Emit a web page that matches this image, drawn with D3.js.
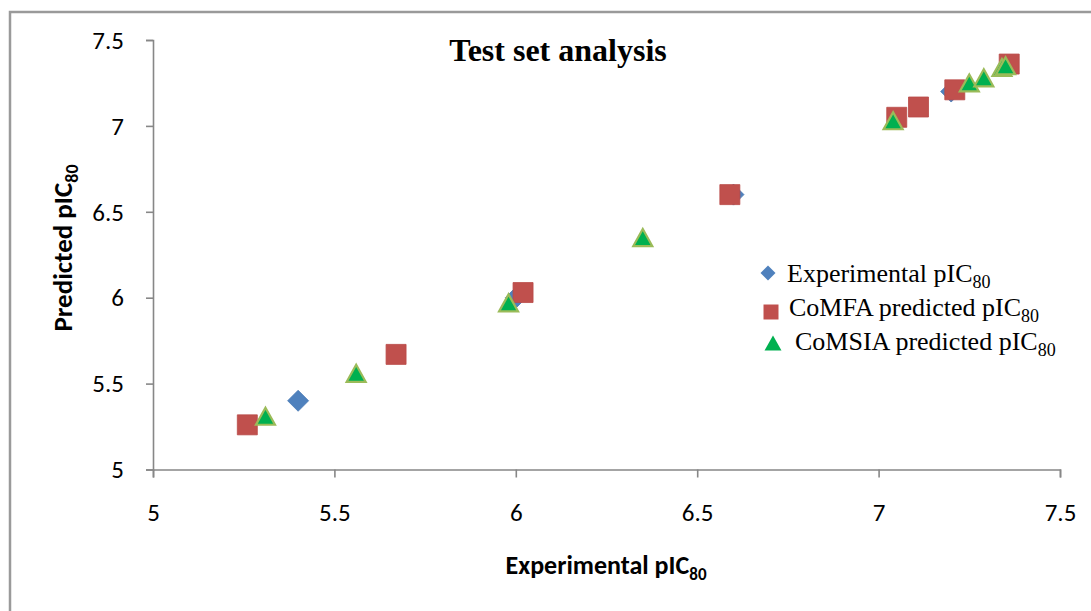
<!DOCTYPE html>
<html><head><meta charset="utf-8">
<script src="https://cdn.jsdelivr.net/npm/d3@7"></script>
<style>
html,body{margin:0;padding:0;background:#fff;}
svg{display:block;}
</style></head>
<body>
<script>
// ---- data ----
const xTicks = [5, 5.5, 6, 6.5, 7, 7.5];
const yTicks = [5, 5.5, 6, 6.5, 7, 7.5];
const expX = [5.40, 6.00, 6.60, 7.20];
const expY = [5.40, 6.00, 6.60, 7.20];
const comfaX = [5.26, 5.67, 6.02, 6.59, 7.05, 7.11, 7.21, 7.36];
const comfaY = [5.26, 5.67, 6.03, 6.60, 7.05, 7.11, 7.21, 7.36];
const comsiaX = [5.31, 5.56, 5.98, 6.35, 7.04, 7.25, 7.29, 7.34, 7.35];
const comsiaY = [5.31, 5.56, 5.97, 6.35, 7.03, 7.25, 7.28, 7.34, 7.35];
const seriesNames = ["Experimental pIC", "CoMFA predicted pIC", "CoMSIA predicted pIC"];
const titleText = "Test set analysis";

const W = 1091, H = 611;
const svg = d3.select("body").append("svg").attr("width", W).attr("height", H);

// outer chart border
svg.append("rect").attr("x", 10).attr("y", 12).attr("width", W + 20).attr("height", H + 20)
  .attr("fill", "none").attr("stroke", "#9a9a9a").attr("stroke-width", 2.5);

const x = d3.scaleLinear().domain([5, 7.5]).range([153, 1060]);
const y = d3.scaleLinear().domain([5, 7.5]).range([469.5, 40]);

const axisColor = "#878787";
const tickFont = "Carlito, 'Open Sans', 'Liberation Sans', sans-serif";

// x axis
const gx = svg.append("g").attr("transform", `translate(0,${y(5)})`)
  .call(d3.axisBottom(x).tickValues(xTicks).tickSize(8).tickPadding(22).tickFormat(d3.format("")));
// y axis
const gy = svg.append("g").attr("transform", `translate(${x(5)},0)`)
  .call(d3.axisLeft(y).tickValues(yTicks).tickSize(7).tickPadding(22).tickFormat(d3.format("")));
[gx, gy].forEach(g => {
  g.select(".domain").attr("stroke", axisColor).attr("stroke-width", 1.6);
  g.selectAll(".tick line").attr("stroke", axisColor).attr("stroke-width", 1.6);
  g.selectAll(".tick text").attr("fill", "#000").style("font-family", tickFont).style("font-size", "25px");
});
gx.selectAll(".tick text").attr("dy", "0.85em");
gy.selectAll(".tick text").attr("dy", "0.33em");

// axis titles
const xt = svg.append("text").attr("x", 606).attr("y", 574).attr("text-anchor", "middle")
  .style("font-family", tickFont).style("font-size", "26px").style("font-weight", "bold");
xt.append("tspan").text("Experimental pIC");
xt.append("tspan").attr("dy", 6).style("font-size", "17px").text("80");

const yt = svg.append("text").attr("transform", "translate(72,248) rotate(-90)").attr("text-anchor", "middle")
  .style("font-family", tickFont).style("font-size", "27px").style("font-weight", "bold");
yt.append("tspan").text("Predicted pIC");
yt.append("tspan").attr("dy", 6).style("font-size", "18px").text("80");

// title
svg.append("text").attr("x", 558).attr("y", 61).attr("text-anchor", "middle")
  .style("font-family", "'Liberation Serif', 'Times New Roman', serif").style("font-size", "32px")
  .style("font-weight", "bold").text(titleText);

// marker path generators
function diamondPath(r) { return `M0,${-r}L${r},0L0,${r}L${-r},0Z`; }
function squarePath(s) { const h = s / 2; return `M${-h},${-h}H${h}V${h}H${-h}Z`; }
function trianglePath(w, h) { return `M0,${-h/2}L${w/2},${h/2}L${-w/2},${h/2}Z`; }

const expData = expX.map((v, i) => ({x: v, y: expY[i]}));
const comfaData = comfaX.map((v, i) => ({x: v, y: comfaY[i]}));
const comsiaData = comsiaX.map((v, i) => ({x: v, y: comsiaY[i]}));

svg.append("g").selectAll("path").data(expData).join("path")
  .attr("d", diamondPath(10.5)).attr("transform", d => `translate(${x(d.x)},${y(d.y)})`)
  .attr("fill", "#4F81BD").attr("stroke", "#4a7ab5").attr("stroke-width", 0.8);
svg.append("g").selectAll("path").data(comfaData).join("path")
  .attr("d", squarePath(20)).attr("transform", d => `translate(${x(d.x)},${y(d.y)})`)
  .attr("fill", "#C0504D").attr("stroke", "#b94a47").attr("stroke-width", 0.8);
svg.append("g").selectAll("path").data(comsiaData).join("path")
  .attr("d", trianglePath(19, 17)).attr("transform", d => `translate(${x(d.x)},${y(d.y)})`)
  .attr("fill", "#00B050").attr("stroke", "#9BBB59").attr("stroke-width", 2.2).attr("stroke-linejoin", "miter");

// legend
const legendFont = "'Liberation Serif', 'Times New Roman', serif";
const legendRows = [
  {name: seriesNames[0], mx: 768, my: 273, tx: 787, ty: 282, shape: diamondPath(7.5), fill: "#4F81BD"},
  {name: seriesNames[1], mx: 771, my: 312, tx: 789, ty: 316, shape: squarePath(15), fill: "#C0504D"},
  {name: seriesNames[2], mx: 773, my: 343, tx: 795, ty: 350, shape: trianglePath(17, 15), fill: "#00B050"}
];
const lg = svg.append("g");
legendRows.forEach(r => {
  lg.append("path").attr("d", r.shape).attr("transform", `translate(${r.mx},${r.my})`).attr("fill", r.fill);
  const t = lg.append("text").attr("x", r.tx).attr("y", r.ty)
    .style("font-family", legendFont).style("font-size", "26px").attr("fill", "#000");
  t.append("tspan").text(r.name);
  t.append("tspan").attr("dy", 6).style("font-size", "18px").text("80");
});
</script>
</body></html>
